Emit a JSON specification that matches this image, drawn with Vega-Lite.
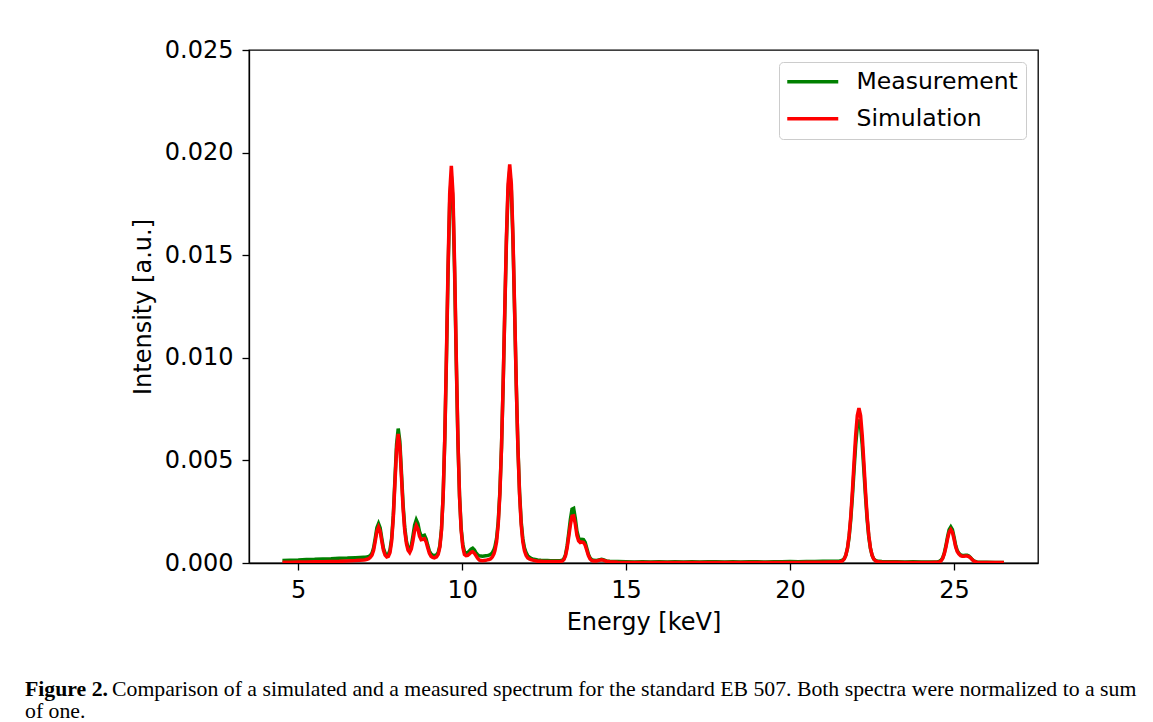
{
  "$schema": "https://vega.github.io/schema/vega-lite/v6.json",
  "width": 789,
  "height": 513,
  "autosize": {"type": "none"},
  "padding": {"left": 249, "top": 50, "right": 115, "bottom": 159},
  "background": "white",
  "config": {
    "font": "DejaVu Sans",
    "view": {"stroke": "black", "strokeWidth": 1.3},
    "axis": {
      "grid": false,
      "domainColor": "black",
      "domainWidth": 1.3,
      "tickColor": "black",
      "tickWidth": 1.3,
      "tickSize": 7,
      "labelFontSize": 24,
      "labelColor": "black",
      "titleFontSize": 24,
      "titleFontWeight": "normal",
      "titleColor": "black",
      "labelFlush": false
    },
    "legend": {
      "orient": "top-right",
      "offset": 12,
      "labelFontSize": 23.5,
      "labelLimit": 400,
      "labelColor": "black",
      "symbolType": "M-3,0H3",
      "symbolSize": 289,
      "symbolStrokeWidth": 3.5,
      "symbolOffset": 14,
      "labelOffset": 32,
      "padding": 8,
      "rowPadding": 12,
      "strokeColor": "#cccccc",
      "cornerRadius": 4,
      "fillColor": "white"
    }
  },
  "title": {
    "text": "Figure 2.",
    "subtitle": ["\u200b\u00a0\u00a0\u00a0\u00a0\u00a0\u00a0\u00a0\u00a0\u00a0\u00a0\u00a0\u00a0\u00a0\u00a0\u00a0\u00a0Comparison of a simulated and a measured spectrum for the standard EB 507. Both spectra were normalized to a sum", "of one."],
    "orient": "bottom",
    "anchor": "start",
    "frame": "group",
    "dx": -224,
    "offset": 45,
    "font": "Liberation Serif",
    "fontSize": 21.75,
    "fontWeight": "bold",
    "color": "black",
    "subtitleFont": "Liberation Serif",
    "subtitleFontSize": 21.75,
    "subtitleColor": "black",
    "subtitleLineHeight": 22,
    "subtitlePadding": -21.75
  },
  "data": {
    "values": [
      {"E": 4.52, "Measurement": 0.00012, "Simulation": 0.00004},
      {"E": 4.75, "Measurement": 0.00014, "Simulation": 0.00004},
      {"E": 5.0, "Measurement": 0.00015, "Simulation": 0.00005},
      {"E": 5.25, "Measurement": 0.00017, "Simulation": 0.00005},
      {"E": 5.5, "Measurement": 0.00018, "Simulation": 0.00006},
      {"E": 5.75, "Measurement": 0.0002, "Simulation": 0.00006},
      {"E": 6.0, "Measurement": 0.00021, "Simulation": 0.00007},
      {"E": 6.25, "Measurement": 0.00023, "Simulation": 0.00008},
      {"E": 6.5, "Measurement": 0.00024, "Simulation": 0.0001},
      {"E": 6.75, "Measurement": 0.00026, "Simulation": 0.00012},
      {"E": 7.0, "Measurement": 0.00028, "Simulation": 0.00015},
      {"E": 7.05, "Measurement": 0.00028, "Simulation": 0.00016},
      {"E": 7.1, "Measurement": 0.0003, "Simulation": 0.00018},
      {"E": 7.15, "Measurement": 0.00032, "Simulation": 0.00021},
      {"E": 7.2, "Measurement": 0.00037, "Simulation": 0.00028},
      {"E": 7.25, "Measurement": 0.00048, "Simulation": 0.00038},
      {"E": 7.3, "Measurement": 0.00074, "Simulation": 0.00062},
      {"E": 7.35, "Measurement": 0.00121, "Simulation": 0.00106},
      {"E": 7.4, "Measurement": 0.00172, "Simulation": 0.00154},
      {"E": 7.45, "Measurement": 0.00192, "Simulation": 0.00175},
      {"E": 7.5, "Measurement": 0.00171, "Simulation": 0.00154},
      {"E": 7.55, "Measurement": 0.00119, "Simulation": 0.00106},
      {"E": 7.6, "Measurement": 0.00072, "Simulation": 0.00062},
      {"E": 7.65, "Measurement": 0.00048, "Simulation": 0.00038},
      {"E": 7.7, "Measurement": 0.0004, "Simulation": 0.00029},
      {"E": 7.75, "Measurement": 0.00042, "Simulation": 0.00032},
      {"E": 7.8, "Measurement": 0.00064, "Simulation": 0.00051},
      {"E": 7.85, "Measurement": 0.00121, "Simulation": 0.00106},
      {"E": 7.9, "Measurement": 0.00232, "Simulation": 0.0022},
      {"E": 7.95, "Measurement": 0.00408, "Simulation": 0.00389},
      {"E": 8.0, "Measurement": 0.00578, "Simulation": 0.00554},
      {"E": 8.05, "Measurement": 0.00655, "Simulation": 0.00629},
      {"E": 8.1, "Measurement": 0.00592, "Simulation": 0.00566},
      {"E": 8.15, "Measurement": 0.00438, "Simulation": 0.00416},
      {"E": 8.2, "Measurement": 0.00282, "Simulation": 0.00263},
      {"E": 8.25, "Measurement": 0.00172, "Simulation": 0.00156},
      {"E": 8.3, "Measurement": 0.00108, "Simulation": 0.00095},
      {"E": 8.35, "Measurement": 0.00074, "Simulation": 0.00062},
      {"E": 8.4, "Measurement": 0.00064, "Simulation": 0.00051},
      {"E": 8.45, "Measurement": 0.00085, "Simulation": 0.00068},
      {"E": 8.5, "Measurement": 0.00132, "Simulation": 0.00109},
      {"E": 8.55, "Measurement": 0.00185, "Simulation": 0.00158},
      {"E": 8.6, "Measurement": 0.0021, "Simulation": 0.00182},
      {"E": 8.65, "Measurement": 0.00192, "Simulation": 0.00166},
      {"E": 8.7, "Measurement": 0.00153, "Simulation": 0.00131},
      {"E": 8.75, "Measurement": 0.00132, "Simulation": 0.00113},
      {"E": 8.8, "Measurement": 0.00132, "Simulation": 0.00115},
      {"E": 8.85, "Measurement": 0.00135, "Simulation": 0.00118},
      {"E": 8.9, "Measurement": 0.00118, "Simulation": 0.00103},
      {"E": 8.95, "Measurement": 0.00086, "Simulation": 0.00074},
      {"E": 9.0, "Measurement": 0.00058, "Simulation": 0.00047},
      {"E": 9.05, "Measurement": 0.00044, "Simulation": 0.00033},
      {"E": 9.1, "Measurement": 0.00038, "Simulation": 0.00027},
      {"E": 9.15, "Measurement": 0.00036, "Simulation": 0.00025},
      {"E": 9.22, "Measurement": 0.0004, "Simulation": 0.0003},
      {"E": 9.27, "Measurement": 0.00051, "Simulation": 0.00042},
      {"E": 9.32, "Measurement": 0.00084, "Simulation": 0.00077},
      {"E": 9.37, "Measurement": 0.00166, "Simulation": 0.00159},
      {"E": 9.42, "Measurement": 0.00326, "Simulation": 0.00325},
      {"E": 9.47, "Measurement": 0.00601, "Simulation": 0.00609},
      {"E": 9.52, "Measurement": 0.00985, "Simulation": 0.01007},
      {"E": 9.57, "Measurement": 0.01413, "Simulation": 0.01446},
      {"E": 9.62, "Measurement": 0.01755, "Simulation": 0.01799},
      {"E": 9.67, "Measurement": 0.01885, "Simulation": 0.01935},
      {"E": 9.72, "Measurement": 0.01755, "Simulation": 0.01799},
      {"E": 9.77, "Measurement": 0.01413, "Simulation": 0.01446},
      {"E": 9.82, "Measurement": 0.00985, "Simulation": 0.01007},
      {"E": 9.87, "Measurement": 0.00601, "Simulation": 0.00609},
      {"E": 9.92, "Measurement": 0.00326, "Simulation": 0.00325},
      {"E": 9.97, "Measurement": 0.00168, "Simulation": 0.00159},
      {"E": 10.02, "Measurement": 0.0009, "Simulation": 0.00077},
      {"E": 10.07, "Measurement": 0.00055, "Simulation": 0.00042},
      {"E": 10.12, "Measurement": 0.00047, "Simulation": 0.00036},
      {"E": 10.17, "Measurement": 0.0005, "Simulation": 0.00037},
      {"E": 10.22, "Measurement": 0.00059, "Simulation": 0.00044},
      {"E": 10.27, "Measurement": 0.00068, "Simulation": 0.00052},
      {"E": 10.32, "Measurement": 0.00072, "Simulation": 0.00055},
      {"E": 10.37, "Measurement": 0.00064, "Simulation": 0.00048},
      {"E": 10.42, "Measurement": 0.0005, "Simulation": 0.00036},
      {"E": 10.47, "Measurement": 0.00041, "Simulation": 0.00023},
      {"E": 10.52, "Measurement": 0.00035, "Simulation": 0.00015},
      {"E": 10.57, "Measurement": 0.00034, "Simulation": 0.00012},
      {"E": 10.62, "Measurement": 0.00033, "Simulation": 0.00011},
      {"E": 10.67, "Measurement": 0.00034, "Simulation": 0.00012},
      {"E": 10.72, "Measurement": 0.00035, "Simulation": 0.00013},
      {"E": 10.77, "Measurement": 0.00036, "Simulation": 0.00015},
      {"E": 10.82, "Measurement": 0.00038, "Simulation": 0.00017},
      {"E": 10.87, "Measurement": 0.00042, "Simulation": 0.00021},
      {"E": 10.92, "Measurement": 0.0005, "Simulation": 0.00029},
      {"E": 10.97, "Measurement": 0.00066, "Simulation": 0.00045},
      {"E": 11.0, "Measurement": 0.0008, "Simulation": 0.0006},
      {"E": 11.05, "Measurement": 0.0012, "Simulation": 0.00104},
      {"E": 11.1, "Measurement": 0.00202, "Simulation": 0.00188},
      {"E": 11.15, "Measurement": 0.00346, "Simulation": 0.00336},
      {"E": 11.2, "Measurement": 0.00566, "Simulation": 0.00563},
      {"E": 11.25, "Measurement": 0.00869, "Simulation": 0.00873},
      {"E": 11.3, "Measurement": 0.01222, "Simulation": 0.01236},
      {"E": 11.35, "Measurement": 0.01565, "Simulation": 0.01587},
      {"E": 11.4, "Measurement": 0.01816, "Simulation": 0.01846},
      {"E": 11.45, "Measurement": 0.0191, "Simulation": 0.01942},
      {"E": 11.5, "Measurement": 0.01816, "Simulation": 0.01846},
      {"E": 11.55, "Measurement": 0.01565, "Simulation": 0.01587},
      {"E": 11.6, "Measurement": 0.01222, "Simulation": 0.01236},
      {"E": 11.65, "Measurement": 0.00869, "Simulation": 0.00873},
      {"E": 11.7, "Measurement": 0.00566, "Simulation": 0.00563},
      {"E": 11.75, "Measurement": 0.00346, "Simulation": 0.00336},
      {"E": 11.8, "Measurement": 0.00202, "Simulation": 0.00188},
      {"E": 11.85, "Measurement": 0.00118, "Simulation": 0.00104},
      {"E": 11.9, "Measurement": 0.00074, "Simulation": 0.0006},
      {"E": 11.95, "Measurement": 0.0005, "Simulation": 0.00037},
      {"E": 12.0, "Measurement": 0.00036, "Simulation": 0.00025},
      {"E": 12.05, "Measurement": 0.00028, "Simulation": 0.0002},
      {"E": 12.1, "Measurement": 0.00023, "Simulation": 0.00016},
      {"E": 12.15, "Measurement": 0.0002, "Simulation": 0.00014},
      {"E": 12.2, "Measurement": 0.00018, "Simulation": 0.00012},
      {"E": 12.3, "Measurement": 0.00015, "Simulation": 0.00009},
      {"E": 12.4, "Measurement": 0.00013, "Simulation": 0.00008},
      {"E": 12.5, "Measurement": 0.00012, "Simulation": 0.00007},
      {"E": 12.6, "Measurement": 0.00012, "Simulation": 0.00007},
      {"E": 12.7, "Measurement": 0.00011, "Simulation": 0.00007},
      {"E": 12.8, "Measurement": 0.00011, "Simulation": 0.00007},
      {"E": 12.9, "Measurement": 0.00011, "Simulation": 0.00007},
      {"E": 13.0, "Measurement": 0.00012, "Simulation": 0.00008},
      {"E": 13.05, "Measurement": 0.00013, "Simulation": 0.00009},
      {"E": 13.1, "Measurement": 0.0002, "Simulation": 0.00016},
      {"E": 13.15, "Measurement": 0.0004, "Simulation": 0.00034},
      {"E": 13.2, "Measurement": 0.00083, "Simulation": 0.00072},
      {"E": 13.25, "Measurement": 0.00145, "Simulation": 0.00128},
      {"E": 13.3, "Measurement": 0.00212, "Simulation": 0.00185},
      {"E": 13.35, "Measurement": 0.00262, "Simulation": 0.00228},
      {"E": 13.4, "Measurement": 0.00266, "Simulation": 0.0023},
      {"E": 13.45, "Measurement": 0.00218, "Simulation": 0.0019},
      {"E": 13.5, "Measurement": 0.00155, "Simulation": 0.00135},
      {"E": 13.55, "Measurement": 0.00123, "Simulation": 0.00108},
      {"E": 13.6, "Measurement": 0.00112, "Simulation": 0.001},
      {"E": 13.65, "Measurement": 0.00115, "Simulation": 0.00102},
      {"E": 13.7, "Measurement": 0.00114, "Simulation": 0.001},
      {"E": 13.75, "Measurement": 0.00101, "Simulation": 0.00088},
      {"E": 13.8, "Measurement": 0.00072, "Simulation": 0.00062},
      {"E": 13.85, "Measurement": 0.00043, "Simulation": 0.00036},
      {"E": 13.9, "Measurement": 0.00025, "Simulation": 0.0002},
      {"E": 13.95, "Measurement": 0.00016, "Simulation": 0.00012},
      {"E": 14.0, "Measurement": 0.00013, "Simulation": 0.0001},
      {"E": 14.1, "Measurement": 0.00012, "Simulation": 0.0001},
      {"E": 14.2, "Measurement": 0.00016, "Simulation": 0.00014},
      {"E": 14.25, "Measurement": 0.00018, "Simulation": 0.00016},
      {"E": 14.3, "Measurement": 0.00016, "Simulation": 0.00014},
      {"E": 14.4, "Measurement": 0.0001, "Simulation": 0.00008},
      {"E": 14.5, "Measurement": 0.00008, "Simulation": 0.00006},
      {"E": 14.75, "Measurement": 0.00007, "Simulation": 0.00004},
      {"E": 15.0, "Measurement": 0.00006, "Simulation": 0.00003},
      {"E": 15.25, "Measurement": 0.00005, "Simulation": 0.00003},
      {"E": 15.5, "Measurement": 0.00006, "Simulation": 0.00003},
      {"E": 15.75, "Measurement": 0.00005, "Simulation": 0.00003},
      {"E": 16.0, "Measurement": 0.00006, "Simulation": 0.00003},
      {"E": 16.25, "Measurement": 0.00005, "Simulation": 0.00003},
      {"E": 16.5, "Measurement": 0.00006, "Simulation": 0.00003},
      {"E": 16.75, "Measurement": 0.00005, "Simulation": 0.00003},
      {"E": 17.0, "Measurement": 0.00006, "Simulation": 0.00003},
      {"E": 17.25, "Measurement": 0.00005, "Simulation": 0.00003},
      {"E": 17.5, "Measurement": 0.00006, "Simulation": 0.00003},
      {"E": 17.75, "Measurement": 0.00006, "Simulation": 0.00003},
      {"E": 18.0, "Measurement": 0.00005, "Simulation": 0.00003},
      {"E": 18.25, "Measurement": 0.00006, "Simulation": 0.00003},
      {"E": 18.5, "Measurement": 0.00005, "Simulation": 0.00003},
      {"E": 18.75, "Measurement": 0.00006, "Simulation": 0.00003},
      {"E": 19.0, "Measurement": 0.00006, "Simulation": 0.00003},
      {"E": 19.25, "Measurement": 0.00005, "Simulation": 0.00003},
      {"E": 19.5, "Measurement": 0.00006, "Simulation": 0.00003},
      {"E": 19.75, "Measurement": 0.00006, "Simulation": 0.00003},
      {"E": 20.0, "Measurement": 0.00007, "Simulation": 0.00003},
      {"E": 20.25, "Measurement": 0.00006, "Simulation": 0.00003},
      {"E": 20.5, "Measurement": 0.00007, "Simulation": 0.00004},
      {"E": 20.75, "Measurement": 0.00007, "Simulation": 0.00004},
      {"E": 21.0, "Measurement": 0.00008, "Simulation": 0.00004},
      {"E": 21.25, "Measurement": 0.00009, "Simulation": 0.00005},
      {"E": 21.5, "Measurement": 0.0001, "Simulation": 0.00006},
      {"E": 21.55, "Measurement": 0.00011, "Simulation": 0.00007},
      {"E": 21.6, "Measurement": 0.00014, "Simulation": 0.00011},
      {"E": 21.65, "Measurement": 0.00021, "Simulation": 0.00019},
      {"E": 21.7, "Measurement": 0.00038, "Simulation": 0.00038},
      {"E": 21.75, "Measurement": 0.00071, "Simulation": 0.00073},
      {"E": 21.8, "Measurement": 0.00127, "Simulation": 0.00134},
      {"E": 21.85, "Measurement": 0.00212, "Simulation": 0.00226},
      {"E": 21.9, "Measurement": 0.00324, "Simulation": 0.00349},
      {"E": 21.95, "Measurement": 0.00453, "Simulation": 0.00489},
      {"E": 22.0, "Measurement": 0.00576, "Simulation": 0.00622},
      {"E": 22.05, "Measurement": 0.00665, "Simulation": 0.00719},
      {"E": 22.1, "Measurement": 0.00698, "Simulation": 0.00755},
      {"E": 22.15, "Measurement": 0.00665, "Simulation": 0.00719},
      {"E": 22.2, "Measurement": 0.00576, "Simulation": 0.00622},
      {"E": 22.25, "Measurement": 0.00453, "Simulation": 0.00489},
      {"E": 22.3, "Measurement": 0.00324, "Simulation": 0.00349},
      {"E": 22.35, "Measurement": 0.00212, "Simulation": 0.00226},
      {"E": 22.4, "Measurement": 0.00127, "Simulation": 0.00134},
      {"E": 22.45, "Measurement": 0.00071, "Simulation": 0.00073},
      {"E": 22.5, "Measurement": 0.00038, "Simulation": 0.00038},
      {"E": 22.55, "Measurement": 0.0002, "Simulation": 0.00019},
      {"E": 22.6, "Measurement": 0.00013, "Simulation": 0.00011},
      {"E": 22.65, "Measurement": 0.0001, "Simulation": 0.00007},
      {"E": 22.7, "Measurement": 0.00008, "Simulation": 0.00006},
      {"E": 22.8, "Measurement": 0.00007, "Simulation": 0.00005},
      {"E": 23.0, "Measurement": 0.00006, "Simulation": 0.00004},
      {"E": 23.25, "Measurement": 0.00006, "Simulation": 0.00004},
      {"E": 23.5, "Measurement": 0.00005, "Simulation": 0.00003},
      {"E": 23.75, "Measurement": 0.00006, "Simulation": 0.00003},
      {"E": 24.0, "Measurement": 0.00005, "Simulation": 0.00003},
      {"E": 24.25, "Measurement": 0.00005, "Simulation": 0.00003},
      {"E": 24.45, "Measurement": 0.00005, "Simulation": 0.00004},
      {"E": 24.5, "Measurement": 0.00006, "Simulation": 0.00004},
      {"E": 24.55, "Measurement": 0.00008, "Simulation": 0.00005},
      {"E": 24.6, "Measurement": 0.00013, "Simulation": 0.0001},
      {"E": 24.65, "Measurement": 0.00024, "Simulation": 0.00021},
      {"E": 24.7, "Measurement": 0.00047, "Simulation": 0.00043},
      {"E": 24.75, "Measurement": 0.00083, "Simulation": 0.00076},
      {"E": 24.8, "Measurement": 0.00126, "Simulation": 0.00116},
      {"E": 24.85, "Measurement": 0.00163, "Simulation": 0.0015},
      {"E": 24.9, "Measurement": 0.00176, "Simulation": 0.00163},
      {"E": 24.95, "Measurement": 0.00162, "Simulation": 0.0015},
      {"E": 25.0, "Measurement": 0.00126, "Simulation": 0.00116},
      {"E": 25.05, "Measurement": 0.00085, "Simulation": 0.00078},
      {"E": 25.1, "Measurement": 0.0006, "Simulation": 0.00055},
      {"E": 25.15, "Measurement": 0.00047, "Simulation": 0.00043},
      {"E": 25.2, "Measurement": 0.0004, "Simulation": 0.00036},
      {"E": 25.25, "Measurement": 0.00037, "Simulation": 0.00033},
      {"E": 25.3, "Measurement": 0.00037, "Simulation": 0.00033},
      {"E": 25.35, "Measurement": 0.00038, "Simulation": 0.00034},
      {"E": 25.4, "Measurement": 0.00038, "Simulation": 0.00034},
      {"E": 25.45, "Measurement": 0.00034, "Simulation": 0.00031},
      {"E": 25.5, "Measurement": 0.00027, "Simulation": 0.00025},
      {"E": 25.55, "Measurement": 0.00018, "Simulation": 0.00017},
      {"E": 25.6, "Measurement": 0.00011, "Simulation": 0.0001},
      {"E": 25.65, "Measurement": 0.00007, "Simulation": 0.00006},
      {"E": 25.7, "Measurement": 0.00005, "Simulation": 0.00004},
      {"E": 25.8, "Measurement": 0.00004, "Simulation": 0.00003},
      {"E": 26.0, "Measurement": 0.00004, "Simulation": 0.00002},
      {"E": 26.25, "Measurement": 0.00003, "Simulation": 0.00002},
      {"E": 26.52, "Measurement": 0.00003, "Simulation": 0.00002}
    ]
  },
  "transform": [
    {"fold": ["Measurement", "Simulation"], "as": ["series", "value"]}
  ],
  "mark": {"type": "line", "strokeWidth": 3.5, "clip": true},
  "encoding": {
    "x": {
      "field": "E",
      "type": "quantitative",
      "scale": {"domain": [3.5, 27.56], "nice": false, "zero": false},
      "axis": {"values": [5, 10, 15, 20, 25], "title": "Energy [keV]", "labelPadding": 8, "titlePadding": 8}
    },
    "y": {
      "field": "value",
      "type": "quantitative",
      "scale": {"domain": [0, 0.025], "nice": false},
      "axis": {"values": [0, 0.005, 0.01, 0.015, 0.02, 0.025], "format": ".3f", "title": "Intensity [a.u.]", "labelPadding": 9, "titlePadding": 9}
    },
    "color": {
      "field": "series",
      "type": "nominal",
      "scale": {"domain": ["Measurement", "Simulation"], "range": ["#008000", "#ff0000"]},
      "legend": {"title": null}
    }
  }
}
